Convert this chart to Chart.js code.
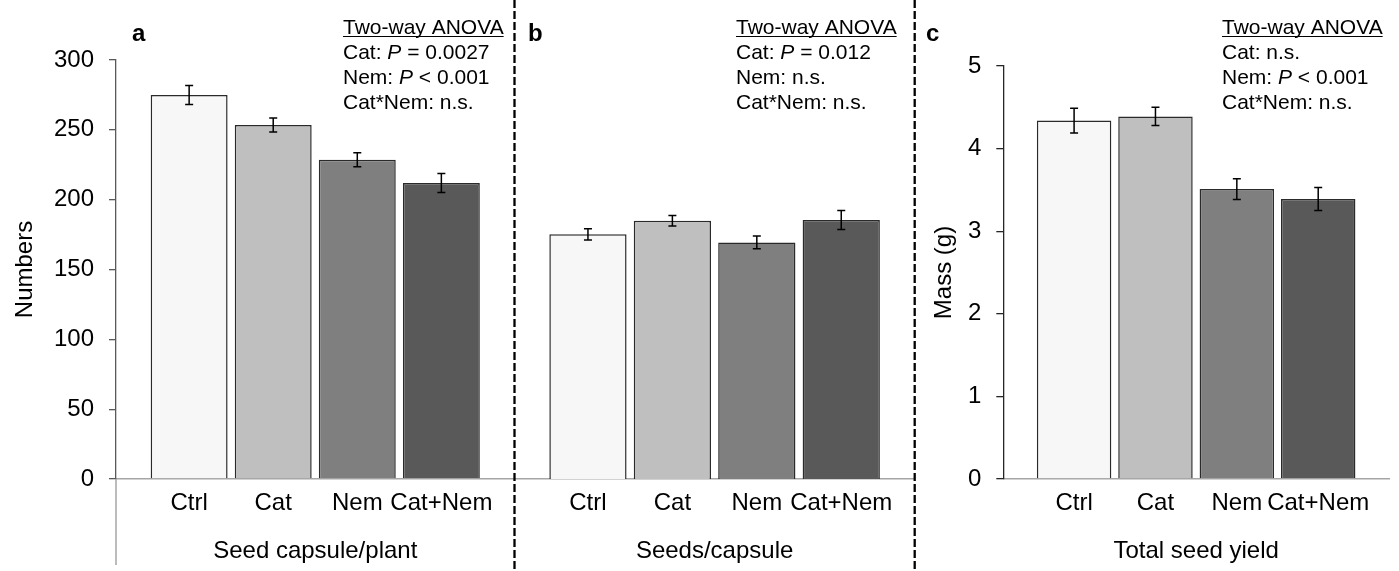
<!DOCTYPE html>
<html>
<head>
<meta charset="utf-8">
<script src="https://cdn.jsdelivr.net/npm/chart.js@4/dist/chart.umd.min.js"></script>
<style>
  body { margin: 0; background: #fff; }
  #wrap { position: relative; width: 1399px; height: 571px; overflow: hidden; background: #fff; }
  canvas { position: absolute; top: 0; }
</style>
</head>
<body>
<div id="wrap">
  <canvas id="pa" width="516" height="571" style="left:0px"></canvas>
  <canvas id="pb" width="406" height="571" style="left:512px"></canvas>
  <canvas id="pc" width="483" height="571" style="left:916px"></canvas>
</div>
<script>
// data
const treatments = ['Ctrl', 'Cat', 'Nem', 'Cat+Nem'];
const barColors = ['#f7f7f7', '#bfbfbf', '#7f7f7f', '#595959'];

const capsulesPerPlant = [275, 253.5, 228.6, 212];
const capsulesErr = [6.8, 5, 5, 6.8];
const seedsPerCapsule = [175.2, 184.9, 169.4, 185.5];
const seedsErr = [4, 3.7, 4.5, 6.8];
const seedYield = [4.34, 4.39, 3.51, 3.39];
const seedYieldErr = [0.15, 0.11, 0.125, 0.14];

const countAxis = { min: 0, max: 300, step: 50 };
const massAxis = { min: 0, max: 5, step: 1 };

// [text, italic]
const anovaA = [
  [['Cat: ', false], ['P', true], [' = 0.0027', false]],
  [['Nem: ', false], ['P', true], [' < 0.001', false]],
  [['Cat*Nem: n.s.', false]]
];
const anovaB = [
  [['Cat: ', false], ['P', true], [' = 0.012', false]],
  [['Nem: n.s.', false]],
  [['Cat*Nem: n.s.', false]]
];
const anovaC = [
  [['Cat: n.s.', false]],
  [['Nem: ', false], ['P', true], [' < 0.001', false]],
  [['Cat*Nem: n.s.', false]]
];

const FONT = '"Liberation Sans", Arial, sans-serif';

const errorBars = {
  id: 'errorBars',
  afterDatasetsDraw(chart, args, opts) {
    const { ctx, scales: { x, y } } = chart;
    const pts = chart.data.datasets[0].data;
    ctx.save();
    ctx.strokeStyle = '#000';
    ctx.lineWidth = 1.5;
    pts.forEach((p, i) => {
      const e = opts.err[i];
      const px = x.getPixelForValue(p.x);
      const top = y.getPixelForValue(p.y + e);
      const bot = y.getPixelForValue(p.y - e);
      ctx.beginPath();
      ctx.moveTo(px, top); ctx.lineTo(px, bot);
      ctx.moveTo(px - 4, top); ctx.lineTo(px + 4, top);
      ctx.moveTo(px - 4, bot); ctx.lineTo(px + 4, bot);
      ctx.stroke();
    });
    ctx.restore();
  }
};

const panelText = {
  id: 'panelText',
  afterDraw(chart, args, opts) {
    const ctx = chart.ctx;
    const area = chart.chartArea;
    ctx.save();
    ctx.fillStyle = '#000';
    ctx.textBaseline = 'alphabetic';
    ctx.textAlign = 'left';

    // panel letter
    ctx.font = 'bold 24px ' + FONT;
    ctx.fillText(opts.letter, opts.letterX, 41);

    // ANOVA block
    ctx.font = '21px ' + FONT;
    const head = 'Two-way ANOVA';
    ctx.fillText(head, opts.textX, 34);
    const w = ctx.measureText(head).width;
    ctx.strokeStyle = '#000';
    ctx.lineWidth = 1.2;
    ctx.beginPath();
    ctx.moveTo(opts.textX, 36.5);
    ctx.lineTo(opts.textX + w, 36.5);
    ctx.stroke();
    opts.lines.forEach((segs, i) => {
      let cx = opts.textX;
      segs.forEach(([t, it]) => {
        ctx.font = (it ? 'italic ' : '') + '21px ' + FONT;
        ctx.fillText(t, cx, 59 + 25 * i);
        cx += ctx.measureText(t).width;
      });
    });

    // lighter continuation of the y axis below zero (panel a)
    if (opts.axisExt) {
      ctx.strokeStyle = '#a6a6a6';
      ctx.lineWidth = 1.5;
      ctx.beginPath();
      ctx.moveTo(area.left, area.bottom);
      ctx.lineTo(area.left, 565);
      ctx.stroke();
    }

    // dashed panel separators (panel b)
    if (opts.dashed) {
      ctx.strokeStyle = '#000';
      ctx.lineWidth = 2.3;
      ctx.setLineDash([8, 3]);
      ctx.beginPath();
      ctx.moveTo(area.left, 0); ctx.lineTo(area.left, chart.height);
      ctx.moveTo(area.right, 0); ctx.lineTo(area.right, chart.height);
      ctx.stroke();
    }
    ctx.restore();
  }
};

function makePanel(id, values, errs, axis, cfg) {
  const yScale = {
    min: axis.min,
    max: axis.max,
    display: cfg.yShow,
    ticks: { stepSize: axis.step, color: '#000', font: { family: FONT, size: 24 }, padding: 15 },
    grid: { display: true, drawOnChartArea: false, drawTicks: true, tickLength: 7, color: cfg.axisColor, lineWidth: 1.3 },
    border: { display: true, color: cfg.axisColor, width: 1.3 },
    title: { display: !!cfg.yTitle, text: cfg.yTitle, color: '#000', font: { family: FONT, size: 24 }, padding: { top: cfg.yTitlePad, bottom: 0 } },
    afterFit: s => { s.width = cfg.yWidth; }
  };
  return new Chart(document.getElementById(id), {
    type: 'bar',
    data: {
      datasets: [{
        data: values.map((v, i) => ({ x: i, y: v })),
        backgroundColor: barColors,
        borderColor: '#2a2a2a',
        borderWidth: 1.5,
        barPercentage: 0.915,
        categoryPercentage: 1
      }]
    },
    plugins: [errorBars, panelText],
    options: {
      responsive: false,
      animation: false,
      devicePixelRatio: 1,
      layout: { padding: cfg.padding },
      scales: {
        x: {
          type: 'linear',
          min: -0.87,
          max: 3.87,
          offset: false,
          afterBuildTicks: s => { s.ticks = treatments.map((t, i) => ({ value: i })); },
          afterFit: s => { s.height = 92; },
          grid: { display: false },
          border: { display: true, color: '#a6a6a6', width: 1.5 },
          ticks: {
            callback: v => treatments[v],
            color: '#000',
            font: { family: FONT, size: 24 },
            padding: 2,
            autoSkip: false,
            maxRotation: 0
          },
          title: { display: true, text: cfg.xTitle, color: '#000', font: { family: FONT, size: 24 }, padding: { top: 0, bottom: 5 } }
        },
        y: yScale
      },
      plugins: {
        legend: { display: false },
        tooltip: { enabled: false },
        errorBars: { err: errs },
        panelText: cfg.text
      }
    }
  });
}

makePanel('pa', capsulesPerPlant, capsulesErr, countAxis, {
  yShow: true, yTitle: 'Numbers', yTitlePad: 11, yWidth: 116, axisColor: '#595959',
  xTitle: 'Seed capsule/plant',
  padding: { top: 60, left: 0, right: 1.5, bottom: 0 },
  text: { letter: 'a', letterX: 132, textX: 343, lines: anovaA, axisExt: true }
});

makePanel('pb', seedsPerCapsule, seedsErr, countAxis, {
  yShow: false, yTitle: '', yTitlePad: 0, yWidth: 0, axisColor: '#595959',
  xTitle: 'Seeds/capsule',
  padding: { top: 60, left: 2.5, right: 3.3, bottom: 0 },
  text: { letter: 'b', letterX: 16, textX: 224, lines: anovaB, dashed: true }
});

makePanel('pc', seedYield, seedYieldErr, massAxis, {
  yShow: true, yTitle: 'Mass (g)', yTitlePad: 14, yWidth: 87.3, axisColor: '#262626',
  xTitle: 'Total seed yield',
  padding: { top: 66, left: 0, right: 10, bottom: 0 },
  text: { letter: 'c', letterX: 10, textX: 306, lines: anovaC }
});
</script>
</body>
</html>
